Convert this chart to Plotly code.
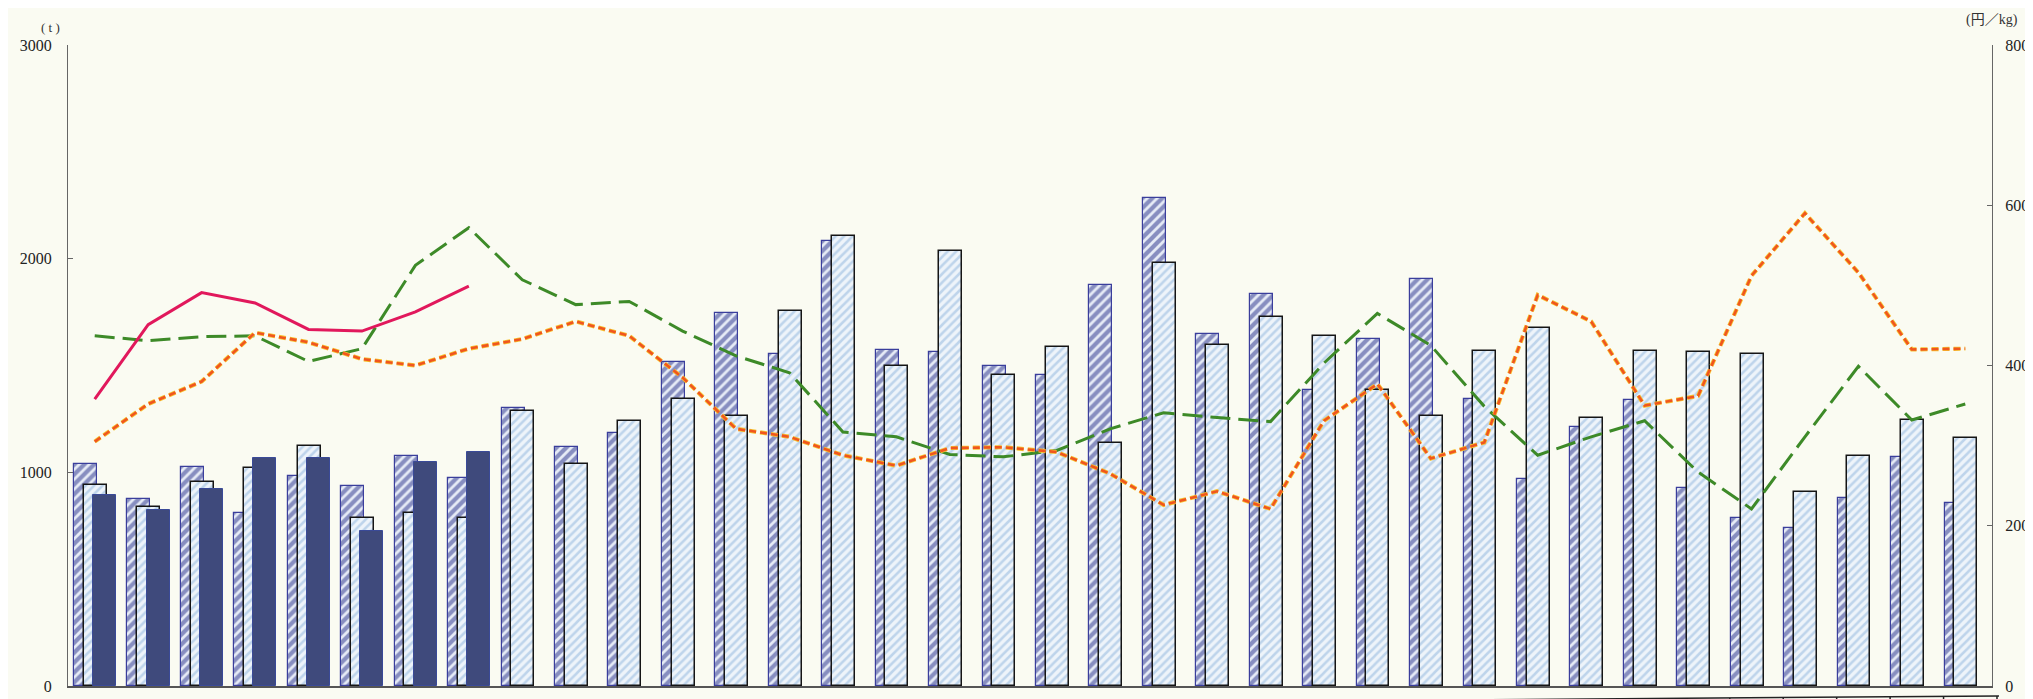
import plotly.graph_objects as go

# ---------------- data ----------------
periods = list(range(1, 37))  # 36 periods along the x axis (no labels shown)

# bars, left axis (t)
vol_hatched_dark = [1040, 873, 1025, 810, 983, 935, 1075, 972,
                    1301, 1117, 1182, 1515, 1747, 1556, 2083, 1571, 1564, 1500,
                    1454, 1879, 2284, 1649, 1833, 1385, 1626, 1906, 1345,
                    971, 1212, 1337, 927, 787, 740, 881, 1073, 858]
vol_hatched_light = [940, 838, 955, 1022, 1122, 784, 808, 784,
                     1287, 1039, 1241, 1345, 1264, 1757, 2107, 1498, 2035, 1455,
                     1586, 1138, 1978, 1595, 1726, 1637, 1386, 1264, 1570,
                     1677, 1255, 1570, 1561, 1555, 909, 1077, 1243, 1161]
vol_solid = [892, 824, 923, 1065, 1069, 724, 1049, 1096]

# lines, right axis (円/kg)
price_red = [358, 451, 491, 478, 445, 443, 467, 499]
price_green = [437, 431, 436, 437, 405, 421, 525, 572,
               507, 476, 480, 443, 412, 391, 317, 311, 289, 286,
               294, 321, 341, 335, 330, 403, 465, 425, 349,
               288, 311, 331, 267, 221, 311, 399, 332, 352]
price_orange = [305, 352, 380, 441, 429, 408, 400, 421,
                433, 455, 437, 385, 321, 311, 288, 275, 297, 298,
                292, 265, 226, 243, 221, 331, 377, 284, 304,
                488, 455, 350, 362, 512, 590, 516, 420, 421]

left_ticks = [0, 1000, 2000, 3000]
right_ticks = [0, 200, 400, 600, 800]

# ---------------- layout geometry (pixels) ----------------
W, H = 2033, 699
L, R = 57, 1985      # plot area left / right
T, B = 37, 684       # plot area top / bottom

def px_x(p):
    return (p - L) / (R - L)

def px_y(p):
    return (B - p) / (B - T)

n = len(periods)
xc = [i + 0.5 for i in range(n)]

BG = '#fafbf2'

fig = go.Figure()

fig.add_trace(go.Bar(
    x=xc, y=vol_hatched_dark, offset=-0.388, width=0.43,
    marker=dict(color='#e6ebf6',
                pattern=dict(shape='/', fgcolor='#27328a', bgcolor='#e6ebf6',
                             size=7, solidity=0.6),
                line=dict(color='#3a3e9c', width=1.2)),
    showlegend=False, hoverinfo='skip'))

fig.add_trace(go.Bar(
    x=xc, y=vol_hatched_light, offset=-0.205, width=0.43,
    marker=dict(color='#e8f0f8',
                pattern=dict(shape='/', fgcolor='#8db4dc', bgcolor='#eef4fa',
                             size=6, solidity=0.42),
                line=dict(color='#151515', width=1.5)),
    showlegend=False, hoverinfo='skip'))

fig.add_trace(go.Bar(
    x=xc[:len(vol_solid)], y=vol_solid, offset=-0.03, width=0.43,
    marker=dict(color='#3f4a7c', line=dict(color='#3a4a98', width=1)),
    showlegend=False, hoverinfo='skip'))

fig.add_trace(go.Scatter(
    x=xc, y=price_green, yaxis='y2', mode='lines',
    line=dict(color='#3d8a28', width=3, dash='20px,8px'),
    showlegend=False, hoverinfo='skip'))

fig.add_trace(go.Scatter(
    x=xc, y=price_orange, yaxis='y2', mode='lines',
    line=dict(color='#f6c230', width=4.2, dash='7px,4px'),
    showlegend=False, hoverinfo='skip'))
fig.add_trace(go.Scatter(
    x=xc, y=price_orange, yaxis='y2', mode='lines',
    line=dict(color='#f0561e', width=2.6, dash='7px,4px'),
    showlegend=False, hoverinfo='skip'))

fig.add_trace(go.Scatter(
    x=xc[:len(price_red)], y=price_red, yaxis='y2', mode='lines',
    line=dict(color='#e1185c', width=3),
    showlegend=False, hoverinfo='skip'))

tick_font = dict(family='Liberation Serif, DejaVu Serif, serif', size=16, color='#222')

# table line partly visible at the bottom right
shapes = [dict(type='line', xref='paper', yref='paper',
               x0=px_x(1340), y0=px_y(699), x1=px_x(1992), y1=px_y(694),
               line=dict(color='#222', width=1.5))]
for k in range(26, 37):
    xp = L + (R - L) * k / n + 5
    yl = 699 - (xp - 1340) * 5 / 652
    if yl < 698:
        shapes.append(dict(type='line', xref='paper', yref='paper',
                           x0=px_x(xp), y0=px_y(yl), x1=px_x(xp), y1=px_y(700),
                           line=dict(color='#222', width=1.5)))

fig.update_layout(
    width=W, height=H,
    margin=dict(l=L, r=W - R, t=T, b=H - B, pad=0),
    paper_bgcolor=BG, plot_bgcolor=BG,
    barmode='overlay', bargap=0,
    xaxis=dict(range=[0, n], showticklabels=False, showgrid=False, zeroline=False,
               showline=True, linecolor='#555', linewidth=1.5, ticks=''),
    yaxis=dict(range=[0, 3000], tickvals=left_ticks, ticktext=[str(v) for v in left_ticks],
               showgrid=False, zeroline=False, showline=True, linecolor='#666', linewidth=1,
               ticks='inside', ticklen=5, tickcolor='#666', tickfont=tick_font,
               ticklabelstandoff=12),
    yaxis2=dict(range=[0, 800], tickvals=right_ticks, ticktext=[str(v) for v in right_ticks],
                overlaying='y', side='right', showgrid=False, zeroline=False,
                showline=True, linecolor='#666', linewidth=1,
                ticks='inside', ticklen=5, tickcolor='#666', tickfont=tick_font,
                ticklabelstandoff=9),
    shapes=shapes,
    annotations=[
        dict(text='( t )', xref='paper', yref='paper', x=px_x(39), y=px_y(19),
             showarrow=False, xanchor='center', yanchor='middle',
             font=dict(family='Liberation Serif, serif', size=13, color='#333')),
        dict(text='(円／kg)', xref='paper', yref='paper', x=px_x(1985), y=px_y(12),
             showarrow=False, xanchor='center', yanchor='middle',
             font=dict(family='Liberation Serif, Noto Sans CJK JP', size=14, color='#333')),
    ],
)

fig.write_html('out.html')
